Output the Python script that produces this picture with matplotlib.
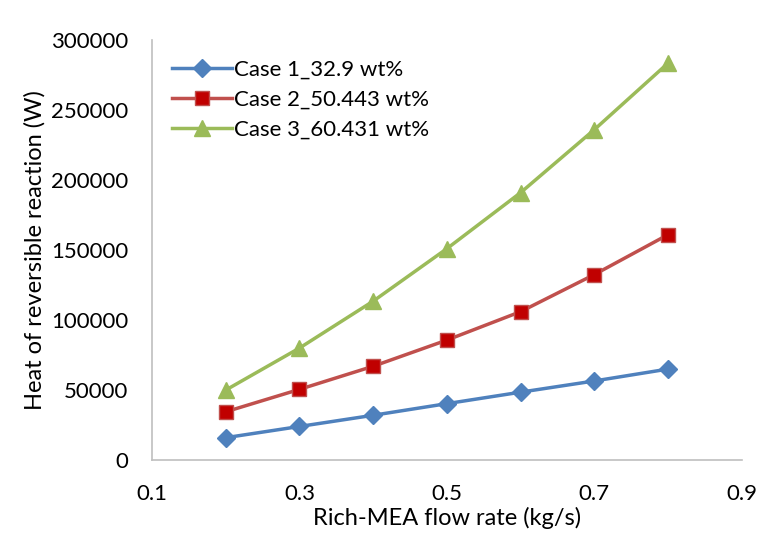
import matplotlib.pyplot as plt

plt.rcParams['font.family'] = ['Lato', 'DejaVu Sans']

flow = [0.2, 0.3, 0.4, 0.5, 0.6, 0.7, 0.8]
case1 = [16000, 24000, 32000, 40300, 48500, 56500, 65000]
case2 = [34500, 50500, 67000, 85700, 106000, 132500, 161000]
case3 = [50000, 80000, 113500, 151000, 191000, 236000, 283500]
labels = ['Case 1_32.9 wt%', 'Case 2_50.443 wt%', 'Case 3_60.431 wt%']

fig = plt.figure(figsize=(7.64, 5.4), dpi=100)
ax = fig.add_axes([0.199, 0.148, 0.772, 0.778])

ax.plot(flow, case1, '-D', color='#4F81BD', lw=2.5, ms=9, label=labels[0])
ax.plot(flow, case2, '-s', color='#C0504D', mfc='#C00000', mec='#C0504D', lw=2.5, ms=10, label=labels[1])
ax.plot(flow, case3, '-^', color='#9BBB59', lw=2.5, ms=11, label=labels[2])

ax.set_xlim(0.1, 0.9)
ax.set_ylim(0, 300000)
ax.set_xticks([0.1, 0.3, 0.5, 0.7, 0.9])
ax.set_yticks(range(0, 300001, 50000))
ax.tick_params(length=0, labelsize=16)
ax.tick_params(axis='y', pad=17)
ax.tick_params(axis='x', pad=17)
for s in ['top', 'right']:
    ax.spines[s].set_visible(False)
for s in ['left', 'bottom']:
    ax.spines[s].set_color('#BFBFBF')
    ax.spines[s].set_linewidth(1.2)

ax.set_xlabel('Rich-MEA flow rate (kg/s)', fontsize=17, labelpad=2)
ax.set_ylabel('Heat of reversible reaction (W)', fontsize=17, labelpad=4)
ax.legend(loc='upper left', bbox_to_anchor=(0.0, 1.0), frameon=False, fontsize=16,
          handlelength=2.7, handletextpad=0.1, labelspacing=0.45)

plt.savefig('out.png')
